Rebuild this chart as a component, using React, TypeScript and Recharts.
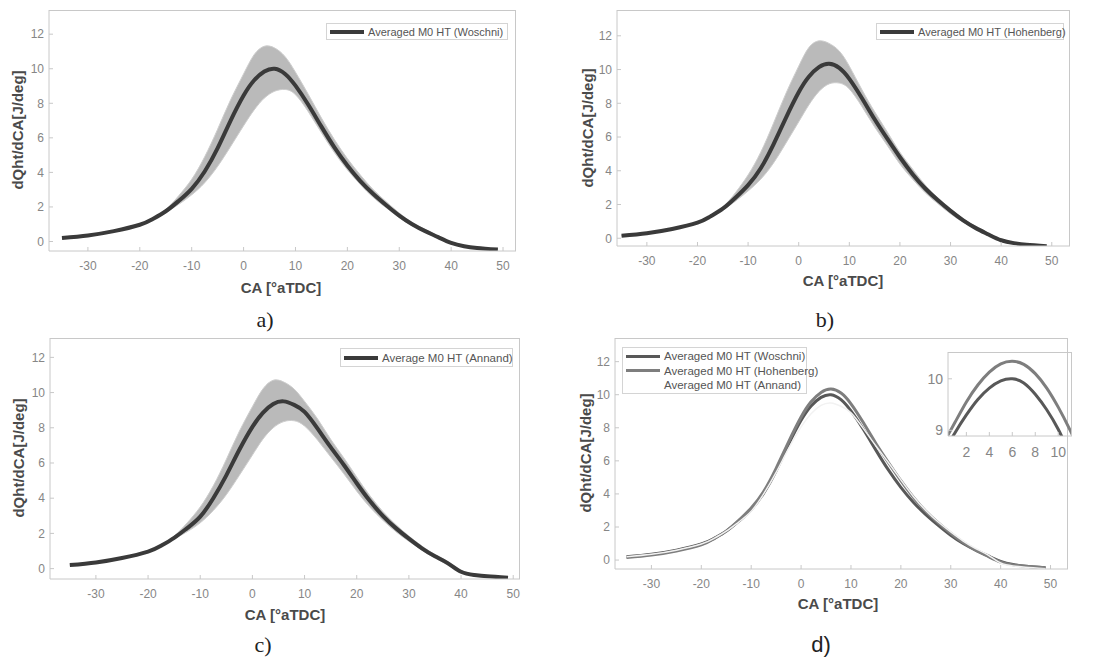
import React from 'react';
import { ComposedChart, Line, Area, XAxis, YAxis } from 'recharts';

// crank angle grid shared by every panel (deg aTDC)
const crankAngle = [-35, -30, -25, -20, -17.5, -15, -12.5, -10, -7.5, -5, -2.5, 0, 2, 4, 6, 8, 10, 12.5, 15, 17.5, 20, 22.5, 25, 27.5, 30, 32.5, 35, 37.5, 40, 42.5, 45, 49];

// a) Woschni
const woschniMean = [0.2, 0.35, 0.6, 0.97, 1.3, 1.75, 2.35, 3.05, 4.05, 5.4, 7.0, 8.45, 9.32, 9.84, 10.0, 9.7, 9.02, 7.9, 6.65, 5.45, 4.4, 3.5, 2.75, 2.1, 1.5, 1.0, 0.6, 0.25, -0.08, -0.27, -0.37, -0.47];
const woschniLow = [0.2, 0.35, 0.6, 0.95, 1.27, 1.68, 2.15, 2.7, 3.4, 4.35, 5.5, 6.7, 7.6, 8.3, 8.7, 8.8, 8.5, 7.5, 6.3, 5.15, 4.15, 3.3, 2.55, 1.95, 1.38, 0.9, 0.53, 0.18, -0.12, -0.3, -0.4, -0.5];
const woschniHigh = [0.22, 0.38, 0.63, 1.0, 1.35, 1.85, 2.65, 3.6, 4.9, 6.5, 8.2, 9.7, 10.8, 11.3, 11.2, 10.7, 9.8, 8.5, 7.15, 5.9, 4.8, 3.85, 3.0, 2.3, 1.65, 1.1, 0.7, 0.32, -0.02, -0.22, -0.33, -0.43];

// b) Hohenberg
const hohenbergMean = [0.15, 0.3, 0.55, 0.92, 1.28, 1.75, 2.4, 3.15, 4.15, 5.55, 7.15, 8.65, 9.57, 10.14, 10.34, 10.1, 9.45, 8.3, 7.05, 5.9, 4.8, 3.8, 2.95, 2.25, 1.62, 1.06, 0.6, 0.22, -0.12, -0.29, -0.38, -0.47];
const hohenbergLow = [0.15, 0.3, 0.55, 0.9, 1.24, 1.68, 2.2, 2.8, 3.5, 4.45, 5.65, 6.9, 7.9, 8.7, 9.15, 9.2, 8.85, 7.8, 6.6, 5.5, 4.4, 3.5, 2.7, 2.05, 1.45, 0.95, 0.53, 0.15, -0.15, -0.31, -0.41, -0.5];
const hohenbergHigh = [0.17, 0.33, 0.58, 0.95, 1.32, 1.85, 2.7, 3.75, 5.1, 6.8, 8.6, 10.2, 11.3, 11.7, 11.55, 11.1, 10.2, 8.8, 7.5, 6.3, 5.1, 4.1, 3.15, 2.4, 1.75, 1.15, 0.7, 0.3, -0.05, -0.24, -0.34, -0.44];

// c) Annand
const annandMean = [0.2, 0.35, 0.6, 0.97, 1.3, 1.75, 2.3, 2.95, 4.0, 5.3, 6.75, 8.05, 8.85, 9.35, 9.5, 9.3, 8.9, 7.95, 6.9, 5.9, 4.85, 3.85, 3.0, 2.3, 1.7, 1.15, 0.7, 0.3, -0.18, -0.36, -0.44, -0.52];
const annandLow = [0.2, 0.35, 0.6, 0.95, 1.27, 1.68, 2.1, 2.6, 3.3, 4.2, 5.3, 6.45, 7.35, 8.0, 8.35, 8.4, 8.1, 7.3, 6.35, 5.4, 4.4, 3.5, 2.75, 2.1, 1.55, 1.05, 0.6, 0.2, -0.22, -0.38, -0.46, -0.54];
const annandHigh = [0.22, 0.38, 0.63, 1.0, 1.35, 1.85, 2.6, 3.5, 4.7, 6.2, 7.8, 9.2, 10.2, 10.7, 10.6, 10.2, 9.5, 8.5, 7.35, 6.3, 5.2, 4.15, 3.25, 2.5, 1.85, 1.28, 0.8, 0.4, -0.1, -0.3, -0.4, -0.48];

// d) inset zoom around the peak
const insetCA = [0, 1, 2, 3, 4, 5, 6, 7, 8, 9, 10, 11, 12];
const insetWoschni = [8.55, 8.95, 9.3, 9.6, 9.82, 9.96, 10.0, 9.92, 9.7, 9.4, 9.02, 8.55, 8.05];
const insetHohenberg = [8.75, 9.15, 9.55, 9.88, 10.13, 10.29, 10.34, 10.28, 10.1, 9.82, 9.45, 9.02, 8.55];

const caTicks = [-30, -20, -10, 0, 10, 20, 30, 40, 50];
const valueTicks = [0, 2, 4, 6, 8, 10, 12];
const insetCaTicks = [2, 4, 6, 8, 10];
const insetValueTicks = [9, 10];

const AXIS = '#c8c8c8';
const TICK = '#868686';
const TITLE = '#4a4a4a';
const FONT = '"Liberation Sans", Arial, sans-serif';

const bandRows = (mean: number[], lo: number[], hi: number[]) =>
  crankAngle.map((ca, i) => ({ ca, mean: mean[i], band: [lo[i], hi[i]] }));

const compareRows = crankAngle.map((ca, i) => ({
  ca,
  woschni: woschniMean[i],
  hohenberg: hohenbergMean[i],
  annand: annandMean[i],
}));

const insetRows = insetCA.map((ca, i) => ({ ca, woschni: insetWoschni[i], hohenberg: insetHohenberg[i] }));

type Box = { l: number; t: number; r: number; b: number };

function Frame({ box, xDomain, yDomain, xTicks, yTicks, data, fontSize = 12, pad = { l: 45, t: 6, r: 10, b: 30 }, tickGap = 14, children }: any) {
  const w = box.r - box.l + pad.l + pad.r;
  const h = box.b - box.t + pad.t + pad.b;
  const tickStyle = { fill: TICK, fontSize, fontFamily: FONT };
  return (
    <>
      <div style={{ position: 'absolute', left: box.l - pad.l, top: box.t - pad.t }}>
        <ComposedChart width={w} height={h} data={data} margin={{ top: pad.t, right: pad.r, left: 0, bottom: 0 }}>
          <XAxis dataKey="ca" type="number" domain={xDomain} ticks={xTicks} allowDataOverflow height={pad.b}
            stroke={AXIS} tick={tickStyle} tickSize={-4} tickMargin={tickGap} interval={0} />
          <YAxis type="number" domain={yDomain} ticks={yTicks} allowDataOverflow width={pad.l}
            stroke={AXIS} tick={tickStyle} tickSize={-4} tickMargin={9} interval={0} />
          {children}
        </ComposedChart>
      </div>
      {/* box outline, top and right sides */}
      <div style={{ position: 'absolute', left: box.l, top: box.t, width: box.r - box.l, height: box.b - box.t, borderTop: `1px solid ${AXIS}`, borderRight: `1px solid ${AXIS}`, boxSizing: 'border-box', pointerEvents: 'none' }} />
    </>
  );
}

function SpaghettiPanel({ box, xDomain, yDomain, rows }: { box: Box; xDomain: number[]; yDomain: number[]; rows: any[] }) {
  return (
    <Frame box={box} xDomain={xDomain} yDomain={yDomain} xTicks={caTicks} yTicks={valueTicks} data={rows}>
      <Area dataKey="band" type="natural" fill="#b2b2b2" fillOpacity={0.9} stroke="#cdcdcd" strokeWidth={1} isAnimationActive={false} />
      <Line dataKey="mean" type="natural" stroke="#3a3a3a" strokeWidth={4} dot={false} isAnimationActive={false} />
    </Frame>
  );
}

function LegendBox({ left, top, width, rowH, fontSize, items }: any) {
  return (
    <div style={{ position: 'absolute', left, top, width, height: rowH * items.length + 3, border: '1px solid #d4d4d4', background: '#fff', boxSizing: 'border-box' }}>
      {items.map((it: any, i: number) => (
        <div key={i} style={{ position: 'absolute', left: 3, top: 1 + i * rowH, height: rowH, display: 'flex', alignItems: 'center', whiteSpace: 'nowrap' }}>
          <div style={{ width: 34, height: it.thick, background: it.color, marginRight: 4 }} />
          <span style={{ fontFamily: FONT, fontSize, color: '#555' }}>{it.label}</span>
        </div>
      ))}
    </div>
  );
}

function YTitle({ x, y }: { x: number; y: number }) {
  return (
    <div style={{ position: 'absolute', left: x, top: y, transform: 'translate(-50%, -50%) rotate(-90deg)', whiteSpace: 'nowrap', fontFamily: FONT, fontWeight: 'bold', fontSize: 15, color: TITLE }}>
      dQht/dCA[J/deg]
    </div>
  );
}

function XTitle({ x, y }: { x: number; y: number }) {
  return (
    <div style={{ position: 'absolute', left: x, top: y, transform: 'translate(-50%, -50%)', whiteSpace: 'nowrap', fontFamily: FONT, fontWeight: 'bold', fontSize: 15, color: TITLE }}>
      CA [°aTDC]
    </div>
  );
}

function Caption({ x, y, text, serif = true }: any) {
  return (
    <div style={{ position: 'absolute', left: x, top: y, transform: 'translate(-50%, -50%)', fontFamily: serif ? '"Liberation Serif", "Times New Roman", serif' : FONT, fontSize: 22, color: '#222' }}>
      {text}
    </div>
  );
}

export default function App() {
  return (
    <div style={{ position: 'absolute', left: 0, top: 0, width: 1096, height: 657, background: '#fff', overflow: 'hidden' }}>
      {/* a) Woschni */}
      <SpaghettiPanel box={{ l: 49, t: 10, r: 516, b: 251 }} xDomain={[-37.5, 52.5]} yDomain={[-0.55, 13.4]} rows={bandRows(woschniMean, woschniLow, woschniHigh)} />
      <LegendBox left={326} top={23} width={182} rowH={14} fontSize={11} items={[{ label: 'Averaged M0 HT (Woschni)', color: '#3a3a3a', thick: 4 }]} />
      <YTitle x={17} y={130} />
      <XTitle x={281} y={287} />
      <Caption x={265} y={320} text="a)" />

      {/* b) Hohenberg */}
      <SpaghettiPanel box={{ l: 617, t: 10, r: 1070, b: 246 }} xDomain={[-35.9, 53.6]} yDomain={[-0.46, 13.53]} rows={bandRows(hohenbergMean, hohenbergLow, hohenbergHigh)} />
      <LegendBox left={876} top={23} width={188} rowH={14} fontSize={11} items={[{ label: 'Averaged M0 HT (Hohenberg)', color: '#3a3a3a', thick: 4 }]} />
      <YTitle x={587} y={128} />
      <XTitle x={843} y={280} />
      <Caption x={825} y={320} text="b)" />

      {/* c) Annand */}
      <SpaghettiPanel box={{ l: 50, t: 338, r: 520, b: 579 }} xDomain={[-38.8, 51.3]} yDomain={[-0.59, 13.1]} rows={bandRows(annandMean, annandLow, annandHigh)} />
      <LegendBox left={340} top={348} width={173} rowH={16} fontSize={11.5} items={[{ label: 'Average M0 HT (Annand)', color: '#3a3a3a', thick: 4 }]} />
      <YTitle x={18} y={458} />
      <XTitle x={285} y={614} />
      <Caption x={263} y={645} text="c)" />

      {/* d) comparison */}
      <Frame box={{ l: 615, t: 338, r: 1068, b: 569 }} xDomain={[-37.3, 53.5]} yDomain={[-0.54, 13.43]} xTicks={caTicks} yTicks={valueTicks} data={compareRows}>
        <Line dataKey="woschni" type="natural" stroke="#585858" strokeWidth={3} dot={false} isAnimationActive={false} />
        <Line dataKey="hohenberg" type="natural" stroke="#7e7e7e" strokeWidth={3} dot={false} isAnimationActive={false} />
        <Line dataKey="annand" type="natural" stroke="#f2f2f2" strokeWidth={1.5} dot={false} isAnimationActive={false} />
      </Frame>
      <LegendBox left={622} top={347} width={185} rowH={14.5} fontSize={11.5} items={[
        { label: 'Averaged M0 HT (Woschni)', color: '#585858', thick: 3 },
        { label: 'Averaged M0 HT (Hohenberg)', color: '#7e7e7e', thick: 3 },
        { label: 'Averaged M0 HT (Annand)', color: '#ffffff', thick: 2 },
      ]} />
      <Frame box={{ l: 948, t: 352, r: 1072, b: 436 }} xDomain={[0.4, 11.2]} yDomain={[8.89, 10.52]} xTicks={insetCaTicks} yTicks={insetValueTicks}
        data={insetRows} fontSize={14} pad={{ l: 30, t: 2, r: 2, b: 26 }} tickGap={15}>
        <Line dataKey="woschni" type="natural" stroke="#585858" strokeWidth={3} dot={false} isAnimationActive={false} />
        <Line dataKey="hohenberg" type="natural" stroke="#7e7e7e" strokeWidth={3} dot={false} isAnimationActive={false} />
      </Frame>
      <YTitle x={585} y={453} />
      <XTitle x={838} y={603} />
      <Caption x={821} y={645} text="d)" serif={false} />
    </div>
  );
}
